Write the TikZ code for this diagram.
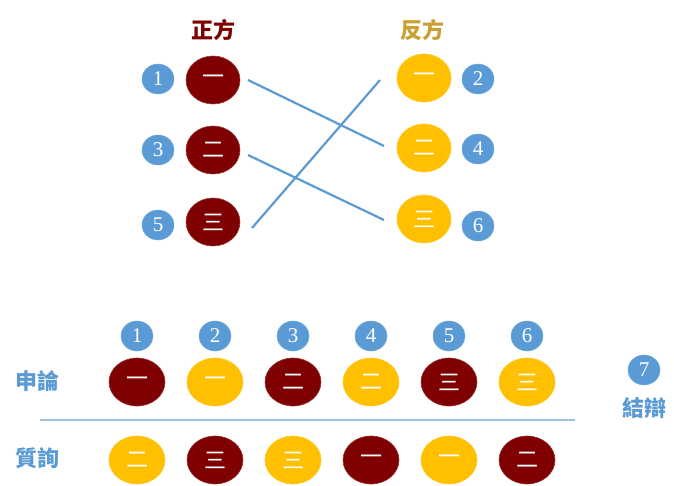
\documentclass[tikz,border=0pt]{standalone}
\usepackage{fontspec}
\setmainfont{Liberation Serif}
\newfontfamily\cjk{Noto Sans CJK TC}
\usetikzlibrary{shapes.geometric}
\definecolor{dred}{HTML}{7F0000}
\definecolor{gold}{HTML}{FFC000}
\definecolor{mblue}{HTML}{5B9BD5}
\definecolor{ochre}{HTML}{C9A033}
\definecolor{lblue}{HTML}{9DC3E6}
\begin{document}
\begin{tikzpicture}[x=1pt,y=-1pt,
  redc/.style={ellipse, fill=dred, draw=dred!80!white, line width=0.6pt, minimum width=54pt, minimum height=48pt, inner sep=0pt, text=white, font=\cjk\fontsize{22}{22}\selectfont},
  yelc/.style={ellipse, fill=gold, draw=gold!85!white, line width=0.6pt, minimum width=54pt, minimum height=48pt, inner sep=0pt, text=white, font=\cjk\fontsize{22}{22}\selectfont},
  numc/.style={ellipse, fill=mblue, draw=mblue!85!white, line width=0.5pt, minimum width=32pt, minimum height=30pt, inner sep=0pt, text=white, font=\fontsize{21}{21}\selectfont},
  lbl/.style={font=\cjk\bfseries\fontsize{22}{22}\selectfont, text=mblue},
  link/.style={draw=mblue, line width=2.2pt},
]
\useasboundingbox (0,0) rectangle (674,485);
\fill[white] (0,0) rectangle (674,485);
% titles
\node[font=\cjk\bfseries\fontsize{22}{22}\selectfont, text=dred] (tz) at (213,30) {正方};
\node[font=\cjk\bfseries\fontsize{22}{22}\selectfont, text=ochre] (tf) at (422,30) {反方};
% top left
\node[redc] (z1) at (213,80) {一};
\node[redc] (z2) at (213,150) {二};
\node[redc] (z3) at (213,222) {三};
\node[numc] (n1) at (158,79) {1};
\node[numc] (n3) at (158,150) {3};
\node[numc] (n5) at (158,225) {5};
% top right
\node[yelc] (f1) at (424,78) {一};
\node[yelc] (f2) at (424,148) {二};
\node[yelc] (f3) at (424,219) {三};
\node[numc] (n2) at (478,79) {2};
\node[numc] (n4) at (478,149) {4};
\node[numc] (n6) at (478,226) {6};
% links
\coordinate (a1) at (248,80);
\coordinate (b1) at (384,146);
\coordinate (a2) at (248,155);
\coordinate (b2) at (384,220);
\coordinate (a3) at (252,228);
\coordinate (b3) at (380,80);
\draw[link] (a1) -- (b1);
\draw[link] (a2) -- (b2);
\draw[link] (a3) -- (b3);
% bottom numbers
\node[numc] (m1) at (137,336) {1};
\node[numc] (m2) at (215,336) {2};
\node[numc] (m3) at (293,336) {3};
\node[numc] (m4) at (371,336) {4};
\node[numc] (m5) at (449,336) {5};
\node[numc] (m6) at (527,336) {6};
% row 1
\node[redc, minimum width=56pt] (s1) at (137,382) {一};
\node[yelc, minimum width=56pt] (s2) at (215,382) {一};
\node[redc, minimum width=56pt] (s3) at (293,382) {二};
\node[yelc, minimum width=56pt] (s4) at (371,382) {二};
\node[redc, minimum width=56pt] (s5) at (449,382) {三};
\node[yelc, minimum width=56pt] (s6) at (527,382) {三};
% row 2
\node[yelc, minimum width=56pt] (q1) at (137,460) {二};
\node[redc, minimum width=56pt] (q2) at (215,460) {三};
\node[yelc, minimum width=56pt] (q3) at (293,460) {三};
\node[redc, minimum width=56pt] (q4) at (371,460) {一};
\node[yelc, minimum width=56pt] (q5) at (449,460) {一};
\node[redc, minimum width=56pt] (q6) at (527,460) {二};
% separator
\coordinate (l1) at (40,420);
\coordinate (l2) at (575,420);
\draw[lblue, line width=1.2pt] (l1) -- (l2);
% labels
\node[lbl] (sl) at (37,381) {申論};
\node[lbl] (ql) at (37,458) {質詢};
\node[numc] (m7) at (644,370) {7};
\node[lbl] (jl) at (644,408) {結辯};
\end{tikzpicture}
\end{document}
